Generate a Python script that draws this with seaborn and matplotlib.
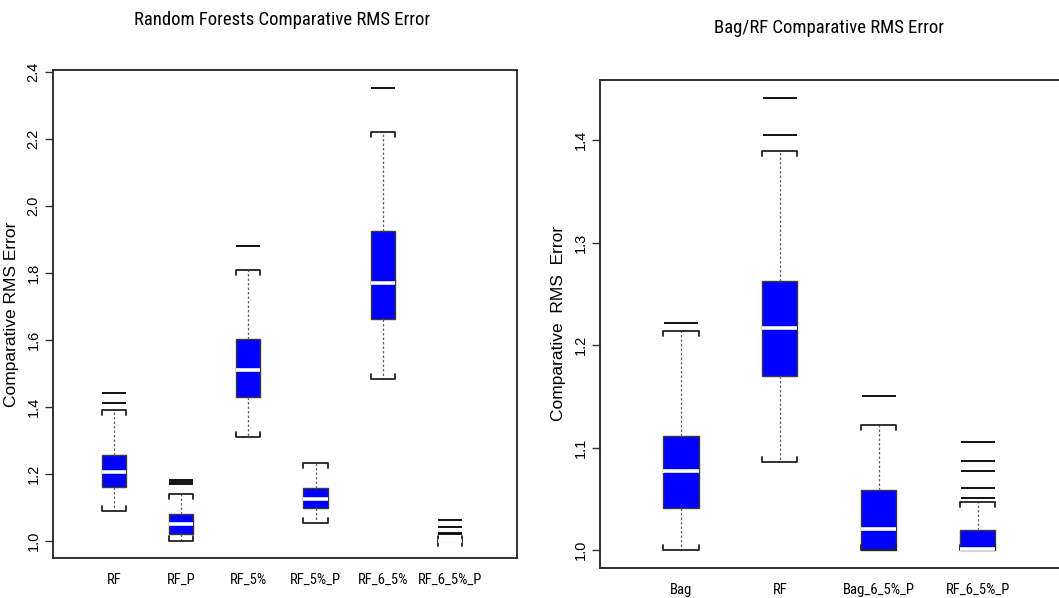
import numpy as np
import pandas as pd
import matplotlib
matplotlib.use('Agg')
import matplotlib.pyplot as plt
from matplotlib import font_manager as fm
import seaborn as sns

# ---- left panel: box summaries ----
left_names = ["RF", "RF_P", "RF_5%", "RF_5%_P", "RF_6_5%", "RF_6_5%_P"]
left_low = [1.087, 1.000, 1.311, 1.052, 1.483, 1.000]
left_q1 = [1.159, 1.019, 1.428, 1.097, 1.662, 1.000]
left_med = [1.206, 1.049, 1.511, 1.124, 1.770, 1.000]
left_q3 = [1.257, 1.078, 1.601, 1.158, 1.926, 1.000]
left_high = [1.389, 1.140, 1.807, 1.231, 2.220, 1.000]
left_out = [[1.411, 1.442], [1.168, 1.174, 1.180], [1.881], [], [2.351],
            [1.019, 1.023, 1.041, 1.062]]
left_ticks = [1.0, 1.2, 1.4, 1.6, 1.8, 2.0, 2.2, 2.4]

# ---- right panel ----
right_names = ["Bag", "RF", "Bag_6_5%_P", "RF_6_5%_P"]
right_low = [1.000, 1.086, 1.000, 1.000]
right_q1 = [1.041, 1.170, 1.000, 1.000]
right_med = [1.077, 1.217, 1.021, 1.001]
right_q3 = [1.111, 1.263, 1.059, 1.0195]
right_high = [1.214, 1.389, 1.122, 1.047]
right_out = [[1.222], [1.405, 1.441], [1.150], [1.051, 1.061, 1.077, 1.087, 1.106]]
right_ticks = [1.0, 1.1, 1.2, 1.3, 1.4]

W = 1059
H = 598


def pick_narrow():
    # the titles / category names are in a condensed face; use one if we have it
    fonts = fm.fontManager.ttflist
    names = {f.name for f in fonts}
    for fam in ['Liberation Sans Narrow', 'Roboto Condensed', 'Open Sans Condensed']:
        if fam in names:
            return dict(family=fam, stretch='normal'), True
    for f in fonts:
        if f.stretch in ('condensed', 'semi-condensed') and f.style == 'normal':
            return dict(family=f.name, stretch='condensed'), True
    return dict(family='Liberation Sans', stretch='normal'), False


NARROW, HAVE_NARROW = pick_narrow()


def box_sample(low, q1, med, q3, high, out):
    # n = 4k+1 values so numpy's quartiles land exactly on q1/med/q3
    top = [high] + sorted(out)
    k = max(len(top), 1)
    return [low] + [q1] * (2 * k - 1) + [med] * k + [q3] * (k + 1 - len(top)) + top


def make_frame(names, low, q1, med, q3, high, out):
    rows = []
    for i, name in enumerate(names):
        for v in box_sample(low[i], q1[i], med[i], q3[i], high[i], out[i]):
            rows.append((name, v))
    return pd.DataFrame(rows, columns=["method", "value"])


def hook_caps(ax, px):
    # R-ish staples: little end ticks pointing toward the box
    ymin, ymax = ax.get_ylim()
    d = px * (ymax - ymin) / ax.bbox.height
    groups = {}
    for ln in ax.lines:
        if ln.get_gid() == "cap":
            key = round(float(np.mean(ln.get_xdata())), 3)
            groups.setdefault(key, []).append(ln)
    for cs in groups.values():
        cs.sort(key=lambda c: c.get_ydata()[0])
        for j, c in enumerate(cs):
            x0, x1 = c.get_xdata()[:2]
            y = c.get_ydata()[0]
            s = d if j == 0 else -d
            c.set_data([x0, x0, x1, x1], [y + s, y, y, y + s])


def draw(ax, df, names, width, flier_pt):
    sns.boxplot(data=df, x="method", y="value", order=names, ax=ax,
                color="#0000ff", saturation=1, width=width,
                linecolor="#3a3a3a", linewidth=1.0, whis=1.5, fliersize=flier_pt,
                medianprops=dict(color="white", linewidth=2.6),
                whiskerprops=dict(color="#666666", linestyle=(0, (2, 1.6)), linewidth=0.9),
                capprops=dict(color="#222222", linewidth=1.3, gid="cap"),
                flierprops=dict(marker="_", markeredgecolor="#111111", markeredgewidth=1.4),
                capwidths=width)
    ax.set_xlabel("")
    ax.tick_params(axis="x", length=0, pad=11)
    for lab in ax.get_xticklabels():
        lab.set_fontfamily(NARROW['family'])
        lab.set_fontstretch(NARROW['stretch'])
        lab.set_fontsize(10.5 if HAVE_NARROW else 9)
        lab.set_color("black")


sns.set_style("white")
plt.rcParams['font.family'] = ['Liberation Sans', 'DejaVu Sans']
plt.rcParams['text.color'] = 'black'

fig = plt.figure(figsize=(W / 100, H / 100), dpi=100)
ax1 = fig.add_axes([53 / W, 1 - 558 / H, 464 / W, 488 / H])
ax2 = fig.add_axes([600 / W, 1 - 567.7 / H, 462 / W, 487.7 / H])

df_left = make_frame(left_names, left_low, left_q1, left_med, left_q3, left_high, left_out)
df_right = make_frame(right_names, right_low, right_q1, right_med, right_q3, right_high, right_out)

draw(ax1, df_left, left_names, 0.36, 17)
draw(ax2, df_right, right_names, 0.355, 25)

ax1.set_xlim(-0.91, 6.0)
ax1.set_ylim(0.948, 2.406)
ax2.set_xlim(-0.818, 3.85)
ax2.set_ylim(0.983, 1.4585)

for ax, ticks, lab in [(ax1, left_ticks, "Comparative RMS Error"),
                       (ax2, right_ticks, "Comparative  RMS  Error")]:
    ax.set_yticks(ticks)
    ax.set_yticklabels([f"{t:.1f}" for t in ticks])
    ax.tick_params(axis="y", left=True, length=6, width=1, color="#333333",
                   labelsize=10.5, labelcolor="black", pad=3)
    for t in ax.get_yticklabels():
        t.set_rotation(90)
        t.set_va("center")
    ax.set_ylabel(lab, fontsize=12.5, color="black")
    for sp in ax.spines.values():
        sp.set_visible(True)
        sp.set_color("#222222")
        sp.set_linewidth(1.3)
    hook_caps(ax, 5)

ax1.yaxis.set_label_coords(-0.073, 0.5)
ax2.yaxis.set_label_coords(-0.074, 0.5)

title_size = 13.5 if HAVE_NARROW else 12
fig.text(282 / W, 1 - 25 / H, "Random Forests Comparative RMS Error",
         ha="center", va="baseline", fontsize=title_size,
         family=NARROW['family'], stretch=NARROW['stretch'])
fig.text(829 / W, 1 - 33 / H, "Bag/RF Comparative RMS Error",
         ha="center", va="baseline", fontsize=title_size,
         family=NARROW['family'], stretch=NARROW['stretch'])

fig.savefig("out.png", dpi=100)
